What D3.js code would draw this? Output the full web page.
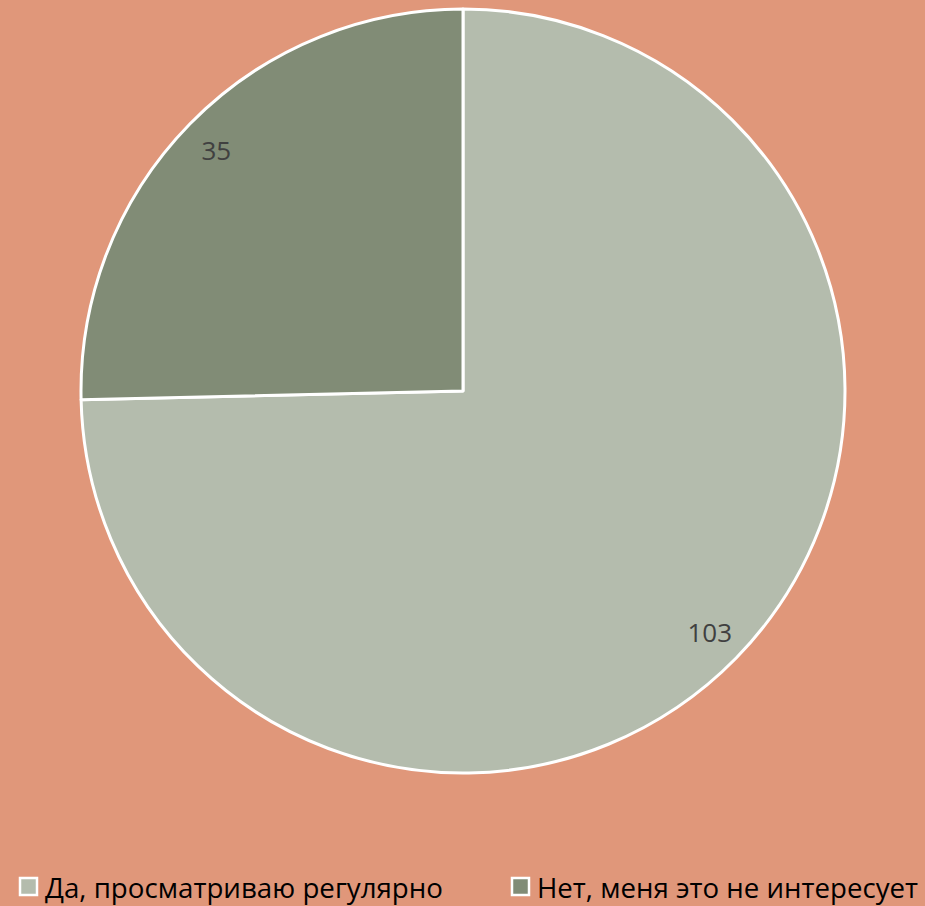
<!DOCTYPE html>
<html><head><meta charset="utf-8">
<script src="https://cdn.jsdelivr.net/npm/d3@7"></script>
<style>html,body{margin:0;padding:0;background:#E0977A;}</style>
</head><body>
<script>
const categories = ["Да, просматриваю регулярно", "Нет, меня это не интересует"];
const values = [103, 35];
const colors = ["#B4BCAD", "#818C76"];

const W = 925, H = 906;
const svg = d3.select("body").append("svg").attr("width", W).attr("height", H)
  .style("background", "#E0977A");
const cx = 463, cy = 391, R = 382;
const data = categories.map((c, i) => ({c, v: values[i], col: colors[i]}));
const pie = d3.pie().value(d => d.v).sort(null);
const arcs = pie(data);
const arc = d3.arc().innerRadius(0).outerRadius(R);
const labelArc = d3.arc().innerRadius(345).outerRadius(345);
const g = svg.append("g").attr("transform", `translate(${cx},${cy})`);
g.selectAll("path").data(arcs).join("path")
  .attr("d", arc).attr("fill", d => d.data.col)
  .attr("stroke", "#fff").attr("stroke-width", 3).attr("stroke-linejoin", "round");
g.selectAll("text").data(arcs).join("text")
  .attr("transform", d => `translate(${labelArc.centroid(d)})`)
  .attr("text-anchor", "middle").attr("dominant-baseline", "central")
  .attr("font-family", "Open Sans, sans-serif").attr("font-size", 26)
  .attr("fill", "#404040").text(d => d.data.v);

const legX = [19, 511];
const legW = [398, 381];
const lg = svg.append("g");
data.forEach((d, i) => {
  lg.append("rect").attr("x", legX[i] + 1).attr("y", 878).attr("width", 17).attr("height", 17)
    .attr("fill", d.col).attr("stroke", "#fff").attr("stroke-width", 2.5);
  lg.append("text").attr("x", legX[i] + 26).attr("y", 887)
    .attr("dominant-baseline", "central")
    .attr("font-family", "Open Sans, sans-serif").attr("font-size", 27)
    .attr("textLength", legW[i]).attr("lengthAdjust", "spacingAndGlyphs")
    .attr("fill", "#000").text(d.c);
});
</script>
</body></html>
